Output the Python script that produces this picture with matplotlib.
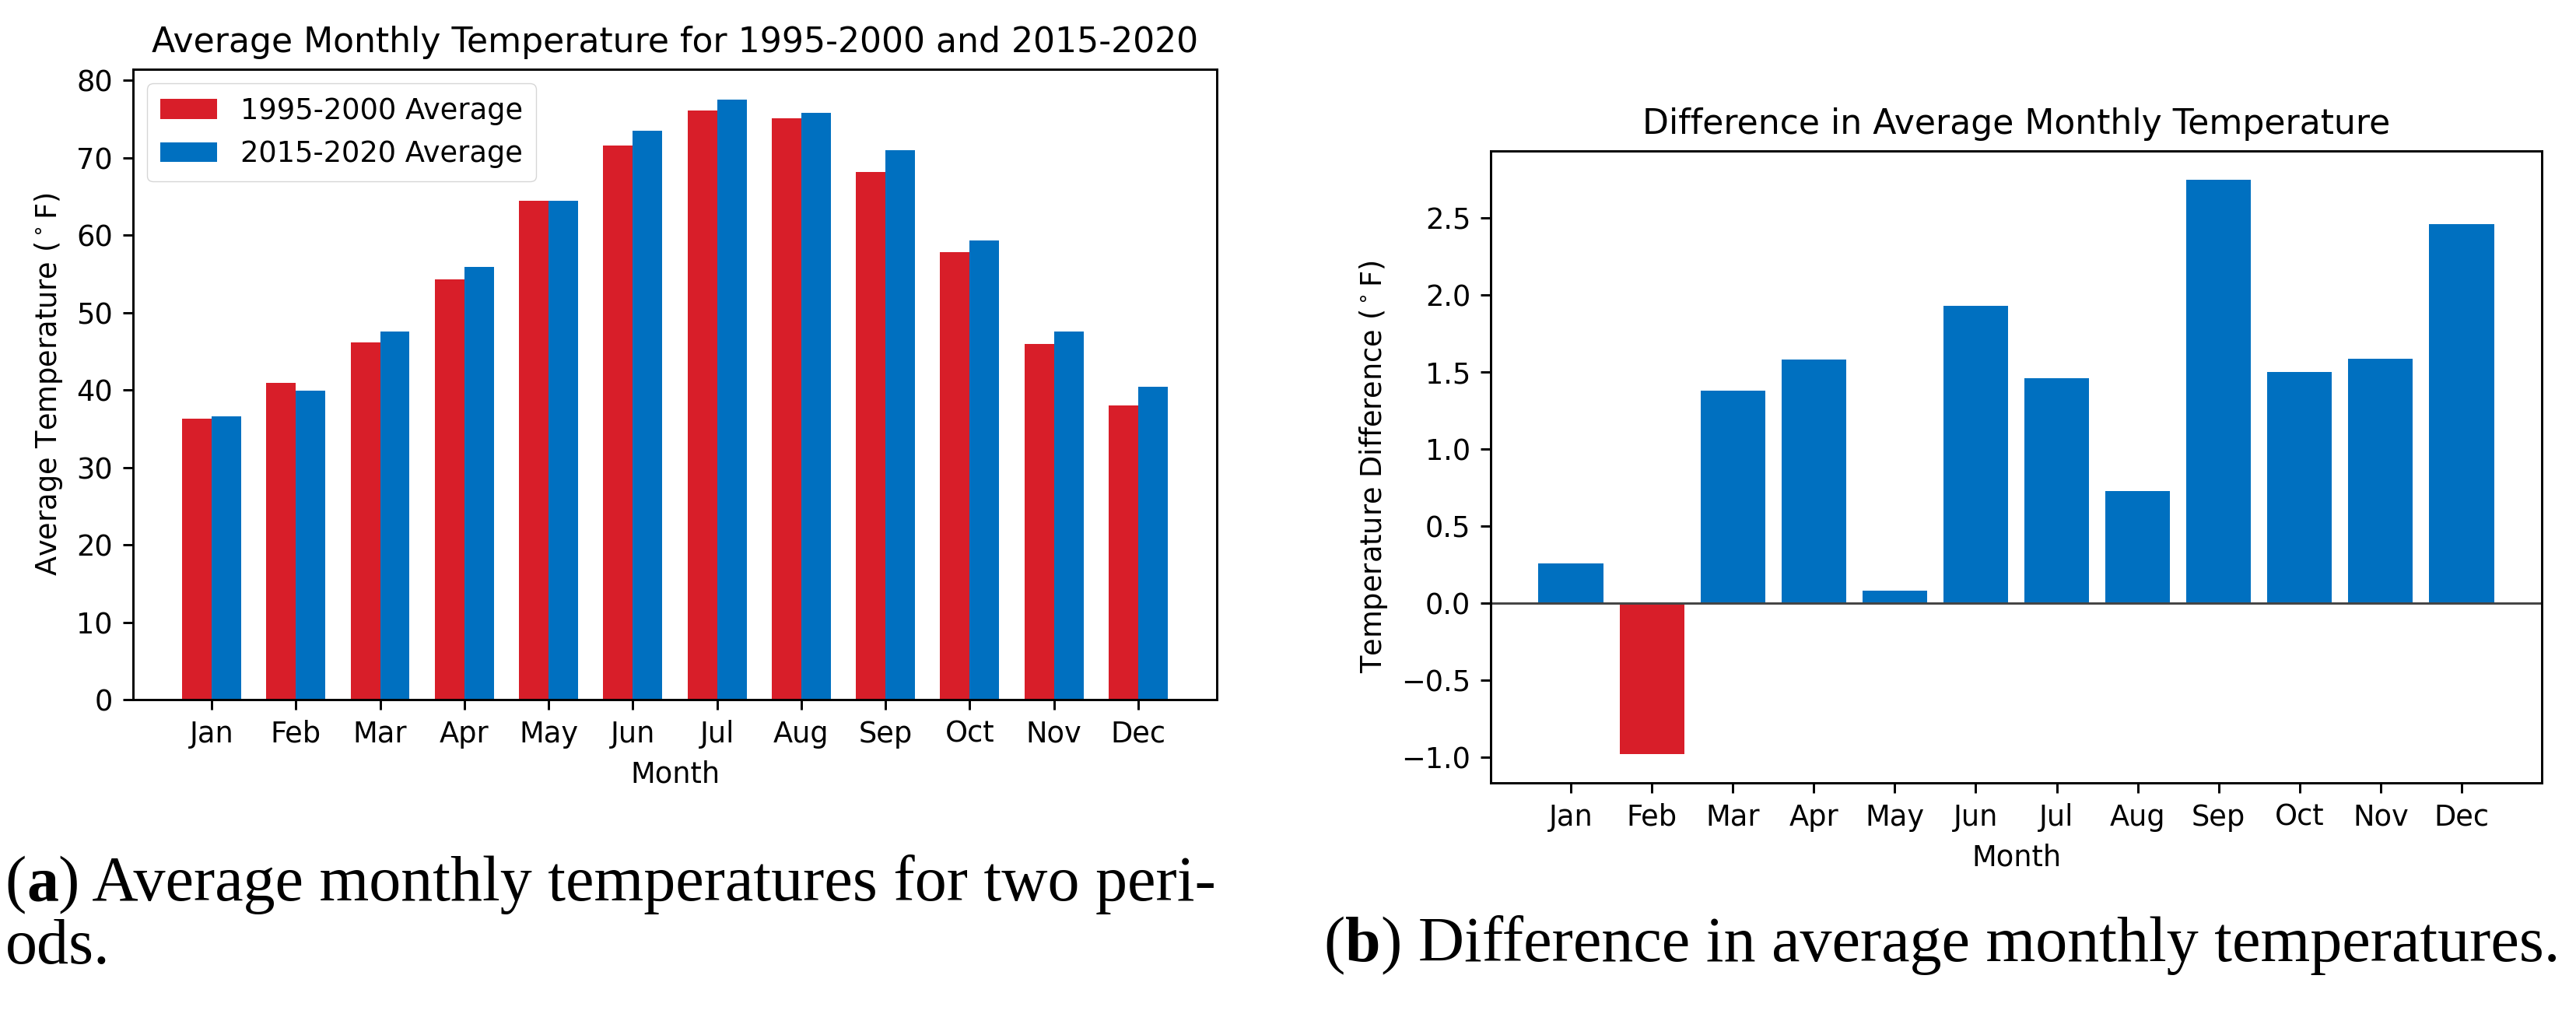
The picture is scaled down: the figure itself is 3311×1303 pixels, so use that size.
import matplotlib
matplotlib.use("Agg")
import matplotlib.pyplot as plt
import numpy as np

months = ["Jan", "Feb", "Mar", "Apr", "May", "Jun", "Jul", "Aug", "Sep", "Oct", "Nov", "Dec"]
avg_1995_2000 = [36.3, 40.9, 46.2, 54.3, 64.4, 71.6, 76.1, 75.1, 68.2, 57.8, 46.0, 38.0]
avg_2015_2020 = [36.56, 39.92, 47.58, 55.88, 64.48, 73.53, 77.56, 75.83, 70.95, 59.3, 47.59, 40.46]
temp_diff = [0.26, -0.98, 1.38, 1.58, 0.08, 1.93, 1.46, 0.73, 2.75, 1.50, 1.59, 2.46]
series_labels = ["1995-2000 Average", "2015-2020 Average"]

RED = "#D81E29"
BLUE = "#0070C0"
S = 2.65  # scale from a default-size matplotlib figure
CAP_FONT = "Liberation Serif"
CAP_SIZE = 59

plt.rcParams.update({
    "font.family": "DejaVu Sans",
    "font.size": 10 * S,
    "axes.titlesize": 12 * S,
    "axes.labelsize": 10 * S,
    "xtick.labelsize": 10 * S,
    "ytick.labelsize": 10 * S,
    "axes.linewidth": 0.8 * S,
    "xtick.major.width": 0.8 * S,
    "ytick.major.width": 0.8 * S,
    "xtick.major.size": 3.5 * S,
    "ytick.major.size": 3.5 * S,
    "xtick.major.pad": 3.5 * S,
    "ytick.major.pad": 3.5 * S,
    "axes.titlepad": 6 * S,
    "axes.labelpad": 4 * S,
})

fig = plt.figure(figsize=(33.11, 13.03), dpi=100)
fig.patch.set_facecolor("white")

# (a) grouped bars
ax1 = fig.add_axes([0.0516, 0.310, 0.4208, 0.6217])
x = np.arange(len(months))
w = 0.35
ax1.bar(x - w / 2, avg_1995_2000, w, color=RED, label=series_labels[0])
ax1.bar(x + w / 2, avg_2015_2020, w, color=BLUE, label=series_labels[1])
ax1.set_xticks(x)
ax1.set_xticklabels(months)
ax1.set_xlabel("Month")
ax1.set_ylabel(r"Average Temperature ($^\circ$F)")
ax1.set_title("Average Monthly Temperature for 1995-2000 and 2015-2020")
ax1.legend(loc="upper left", fontsize=10 * S, borderpad=0.45, handlelength=2.0)

# (b) difference bars
ax2 = fig.add_axes([0.5787, 0.2279, 0.4080, 0.6232])
diff_colors = [BLUE if v >= 0 else RED for v in temp_diff]
ax2.bar(x, temp_diff, color=diff_colors)
ax2.axhline(0, color="#444444", linewidth=0.8 * S)
ax2.set_xticks(x)
ax2.set_xticklabels(months)
ax2.set_xlabel("Month")
ax2.set_ylabel(r"Temperature Difference ($^\circ$F)")
ax2.set_title("Difference in Average Monthly Temperature")


def caption(x0, y0, letter, rest):
    t = fig.text(x0, y0, "(", family=CAP_FONT, fontsize=CAP_SIZE, va="baseline")
    t = ax1.annotate(letter, xycoords=t, xy=(1, 0), va="bottom", family=CAP_FONT,
                     fontsize=CAP_SIZE, fontweight="bold", annotation_clip=False)
    ax1.annotate(rest, xycoords=t, xy=(1, 0), va="bottom", family=CAP_FONT,
                 fontsize=CAP_SIZE, annotation_clip=False)


caption(0.002, 0.112, "a", ") Average monthly temperatures for two peri-")
fig.text(0.002, 0.050, "ods.", family=CAP_FONT, fontsize=CAP_SIZE, va="baseline")
caption(0.514, 0.052, "b", ") Difference in average monthly temperatures.")

fig.savefig("out.png", dpi=100, facecolor="white")
